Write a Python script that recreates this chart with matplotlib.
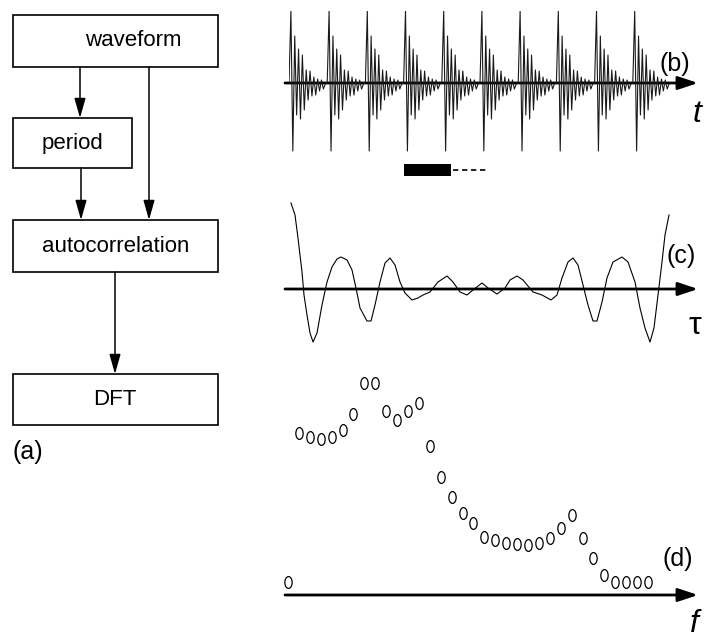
import numpy as np
import matplotlib.pyplot as plt
from matplotlib.patches import Rectangle
from matplotlib.path import Path

plt.rcParams["font.family"] = ["Liberation Sans", "DejaVu Sans"]

# (b) one period of the waveform (amplitude, px above the axis), repeats each period
pulse_shape = [0, 72, -68, 47, -32, 34, -36, 28, -27, 13, -17, 12, -13, 6, -12,
               4, -8, 3, -6, -1]
n_periods = 10

# (c) autocorrelation: lag and value
lags = [1, 5, 8, 12, 14, 17, 20, 23, 27, 32, 37, 42, 47, 51, 57, 62, 66, 70, 77,
        81, 85, 90, 95, 100, 105, 110, 115, 122, 128, 133, 140, 148, 157, 163,
        170, 177, 183, 192, 198, 207, 215, 220, 227, 233, 243, 252, 261, 267,
        272, 278, 283, 288, 293, 298, 303, 307, 312, 317, 323, 332, 338, 345,
        350, 355, 360, 364, 368, 372, 375, 379]
acorr = [86, 74, 51, 17, -6, -26, -44, -53, -44, -16, 7, 22, 30, 32, 29, 19, 1,
         -19, -32, -32, -16, 7, 26, 31, 24, 7, -4, -11, -9, -6, -3, 7, 13, 7, -3,
         -6, -1, 6, 1, -5, 1, 9, 13, 9, -3, -6, -11, -6, 11, 27, 31, 24, 4, -16,
         -32, -32, -13, 11, 27, 32, 27, 7, -19, -39, -53, -39, -6, 27, 54, 74]

# (d) spectrum magnitude per harmonic
harmonics = list(range(34))
spectrum = [1.3, 16.2, 15.8, 15.6, 15.8, 16.5, 18.1, 21.2, 21.2, 18.4, 17.5,
            18.4, 19.2, 14.9, 11.8, 9.8, 8.2, 7.2, 5.8, 5.5, 5.2, 5.1, 5.0, 5.2,
            5.7, 6.7, 8.0, 5.7, 3.7, 2.0, 1.3, 1.3, 1.3, 1.3]

W, H = 710, 639
fig = plt.figure(figsize=(W / 100, H / 100), dpi=100)

base = fig.add_axes([0, 0, 1, 1])
base.set_xlim(0, W)
base.set_ylim(H, 0)
base.axis("off")


def px_axes(left, top, right, bottom):
    ax = fig.add_axes([left / W, 1 - bottom / H, (right - left) / W, (bottom - top) / H])
    ax.axis("off")
    return ax


# ---- (a) flowchart
boxes = [
    ((13, 15, 218, 67), "waveform", 133),
    ((13, 118, 132, 168), "period", 72),
    ((13, 220, 218, 272), "autocorrelation", 116),
    ((13, 374, 218, 425), "DFT", 115),
]
for (x0, y0, x1, y1), label, tx in boxes:
    base.add_patch(Rectangle((x0, y0), x1 - x0, y1 - y0, fill=False, ec="black", lw=1.2))
    base.text(tx, (y0 + y1) / 2, label, ha="center", va="center", fontsize=16)

flow_arrows = [((80, 67), (80, 118)), ((81, 168), (81, 220)),
               ((149, 67), (149, 220)), ((115, 272), (115, 374))]
for start, end in flow_arrows:
    base.annotate("", xy=end, xytext=start,
                  arrowprops=dict(arrowstyle="-|>,head_length=0.6,head_width=0.17",
                                  mutation_scale=20, lw=1.1, color="black",
                                  shrinkA=0, shrinkB=0))
base.text(13, 452, "(a)", ha="left", va="center", fontsize=18)

# ---- axis arrows for b, c, d
for y in (83, 289, 595):
    base.annotate("", xy=(698, y), xytext=(285, y),
                  arrowprops=dict(arrowstyle="-|>,head_length=0.6,head_width=0.2",
                                  mutation_scale=20, lw=2.0, color="black",
                                  shrinkA=0, shrinkB=0), zorder=5)

# ---- (b) waveform
wave = pulse_shape * n_periods + [0]
ax_b = px_axes(289, 11, 671, 155)
ax_b.plot(range(len(wave)), wave, color="#1a1a1a", lw=0.8)
ax_b.set_xlim(0, len(wave) - 1)
ax_b.set_ylim(-72, 72)

# analysis window marker under the waveform
base.add_patch(Rectangle((404, 164), 47, 12, color="black", lw=0))
base.plot([453, 489], [170, 170], color="black", lw=1.2, dashes=(3.2, 2.2))

base.text(675, 64, "(b)", ha="center", va="center", fontsize=18)
base.text(697, 114, "t", ha="center", va="center", fontsize=23, style="italic")

# ---- (c) autocorrelation
ax_c = px_axes(290, 199, 670, 349)
ax_c.plot(lags, acorr, color="black", lw=0.8)
ax_c.set_xlim(0, 380)
ax_c.set_ylim(-60, 90)

base.text(681, 256, "(c)", ha="center", va="center", fontsize=18)
base.text(695, 326, "τ", ha="center", va="center", fontsize=23)

# ---- (d) spectrum
ellipse = Path(Path.unit_circle().vertices * np.array([0.62, 1.0]), Path.unit_circle().codes)
ax_d = px_axes(288, 383, 648, 595)
ax_d.plot(harmonics, spectrum, ls="none", marker=ellipse, markersize=8.5,
          mfc="white", mec="black", mew=0.9, clip_on=False)
ax_d.set_xlim(0, 33)
ax_d.set_ylim(0, 21.2)

base.text(678, 559, "(d)", ha="center", va="center", fontsize=18)
base.text(694, 624, "f", ha="center", va="center", fontsize=23, style="italic")

fig.savefig("out.png", dpi=100)
